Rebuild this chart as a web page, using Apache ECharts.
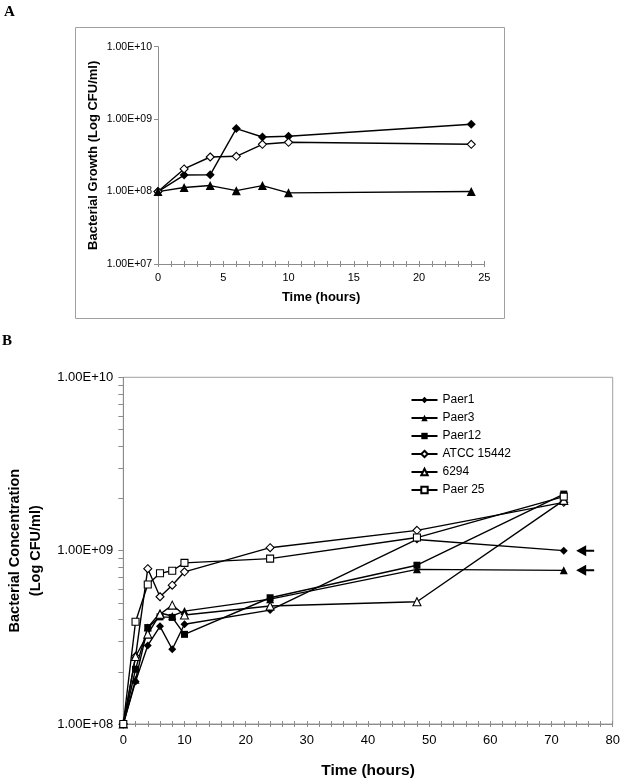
<!DOCTYPE html>
<html>
<head>
<meta charset="utf-8">
<script src="https://cdn.jsdelivr.net/npm/echarts@6/dist/echarts.min.js"></script>
<style>
html,body{margin:0;padding:0;background:#fff;}
#chart{width:623px;height:779px;}
</style>
</head>
<body>
<div id="chart"></div>
<script>
// ---------- Panel A data ----------
const timesA = [0, 2, 4, 6, 8, 10, 24];
const panelA_filledDiamond = [1.0e8, 1.69e8, 1.70e8, 7.4e8, 5.66e8, 5.8e8, 8.5e8];
const panelA_openDiamond   = [1.0e8, 2.05e8, 3.0e8, 3.07e8, 4.49e8, 4.79e8, 4.49e8];
const panelA_filledTri     = [1.0e8, 1.14e8, 1.21e8, 1.03e8, 1.21e8, 0.96e8, 1.0e8];
const yTicksA = [1e7, 1e8, 1e9, 1e10];

// ---------- Panel B data ----------
const timesB = [0, 2, 4, 6, 8, 10, 24, 48, 72];
const paer1  = [1.0e8, 1.76e8, 2.84e8, 3.66e8, 2.70e8, 3.76e8, 4.54e8, 1.16e9, 1.0e9];
const paer3  = [1.0e8, 1.80e8, 3.60e8, 4.37e8, 4.20e8, 4.48e8, 5.25e8, 7.8e8, 7.7e8];
const paer12 = [1.0e8, 2.07e8, 3.60e8, 4.15e8, 4.12e8, 3.29e8, 5.35e8, 8.24e8, 2.12e9];
const atcc   = [1.0e8, 2.45e8, 7.87e8, 5.42e8, 6.32e8, 7.55e8, 1.04e9, 1.31e9, 1.90e9];
const s6294  = [1.0e8, 2.45e8, 3.30e8, 4.30e8, 4.85e8, 4.25e8, 4.79e8, 5.07e8, 1.95e9];
const paer25 = [1.0e8, 3.89e8, 6.38e8, 7.40e8, 7.66e8, 8.50e8, 9.00e8, 1.19e9, 2.05e9];
const namesB = ['Paer1', 'Paer3', 'Paer12', 'ATCC 15442', '6294', 'Paer 25'];
const yTicksB = [1e8, 1e9, 1e10];
const arrowTime = 75.5; // annotation arrows beside Paer1 and Paer3 end points

const FONT = 'Liberation Sans, Arial, sans-serif';
// Excel-style scientific label: 1.00E+09
const fmt = v => {
  const e = Math.round(Math.log10(v));
  const m = v / Math.pow(10, e);
  return m.toFixed(2) + 'E+' + String(e).padStart(2, '0');
};
const pairs = (xs, ys) => xs.map((x, i) => [x, ys[i]]);
const range = (a, b, s) => { const r = []; for (let v = a; v <= b + 1e-9; v += s) r.push(v); return r; };
const logMinor = (lo, hi) => { const r = []; for (let e = lo; e < hi; e++) for (let m = 1; m < 10; m++) r.push(m * Math.pow(10, e)); r.push(Math.pow(10, hi)); return r; };

const GRAY = '#8c8c8c';
const arrowPath = 'path://M0,5.5 L10,0 L10,4.5 L18,4.5 L18,6.5 L10,6.5 L10,11 Z';

function mk(name, xs, ys, sym, open, size, gi, extra) {
  const s = {
    name: name, type: 'line', xAxisIndex: gi === 0 ? 0 : 2, yAxisIndex: gi,
    data: pairs(xs, ys), symbol: sym, symbolSize: size, showSymbol: true,
    lineStyle: { color: '#000', width: 1.4 },
    itemStyle: open ? { color: '#fff', borderColor: '#000', borderWidth: 1.1 } : { color: '#000', borderColor: '#000', borderWidth: 0 },
    emphasis: { disabled: true }, animation: false, z: 3
  };
  return Object.assign(s, extra || {});
}
function arrowMark(ys) {
  return { markPoint: { silent: true, symbol: arrowPath, symbolSize: [18, 11], itemStyle: { color: '#000' }, label: { show: false },
    data: [{ coord: [arrowTime, ys[ys.length - 1]] }] } };
}

const chart = echarts.init(document.getElementById('chart'), null, { renderer: 'canvas' });
const option = {
  backgroundColor: '#fff',
  animation: false,
  textStyle: { fontFamily: FONT },
  graphic: [
    { type: 'rect', shape: { x: 75.5, y: 27.5, width: 429, height: 291 }, style: { fill: 'none', stroke: '#a0a0a0', lineWidth: 1 }, silent: true },
    { type: 'text', left: 4, top: 5, style: { text: 'A', font: 'bold 15px Liberation Serif, Times New Roman, serif', fill: '#000' } },
    { type: 'text', left: 2, top: 334, style: { text: 'B', font: 'bold 15px Liberation Serif, Times New Roman, serif', fill: '#000' } }
  ],
  grid: [
    { left: 158, top: 46.7, width: 326.3, height: 217.3, show: false, containLabel: false, outerBoundsMode: 'none' },
    { left: 123.3, top: 377.3, width: 489.4, height: 346.7, show: true, borderColor: '#a0a0a0', borderWidth: 1, backgroundColor: 'transparent', containLabel: false, outerBoundsMode: 'none' }
  ],
  legend: {
    show: true, orient: 'vertical', left: 405.5, top: 388, itemWidth: 26, itemHeight: 8, itemGap: 4,
    data: namesB, textStyle: { fontFamily: FONT, fontSize: 12, color: '#000', lineHeight: 14 }, selectedMode: false
  },
  xAxis: [
    { gridIndex: 0, type: 'value', min: 0, max: 25, interval: 5,
      name: 'Time (hours)', nameLocation: 'middle', nameGap: 27,
      nameTextStyle: { fontFamily: FONT, fontWeight: 'bold', fontSize: 13, color: '#000' },
      axisLine: { lineStyle: { color: GRAY } }, axisTick: { show: true, length: 3, customValues: range(0, 25, 1), lineStyle: { color: GRAY } },
      axisLabel: { fontFamily: FONT, fontSize: 11, color: '#000', margin: 8 }, splitLine: { show: false } },
    { gridIndex: 0, type: 'value', min: 0, max: 25, interval: 5, position: 'bottom',
      axisLine: { show: false }, axisTick: { show: true, inside: true, length: 3, customValues: range(0, 25, 1), lineStyle: { color: GRAY } },
      axisLabel: { show: false }, splitLine: { show: false } },
    { gridIndex: 1, type: 'value', min: 0, max: 80, interval: 10,
      name: 'Time (hours)', nameLocation: 'middle', nameGap: 39,
      nameTextStyle: { fontFamily: FONT, fontWeight: 'bold', fontSize: 15.5, color: '#000' },
      axisLine: { lineStyle: { color: GRAY } }, axisTick: { show: true, length: 3, customValues: range(0, 80, 2), lineStyle: { color: GRAY } },
      axisLabel: { fontFamily: FONT, fontSize: 13, color: '#000', margin: 10 }, splitLine: { show: false } },
    { gridIndex: 1, type: 'value', min: 0, max: 80, interval: 10, position: 'bottom',
      axisLine: { show: false }, axisTick: { show: true, inside: true, length: 3, customValues: range(0, 80, 2), lineStyle: { color: GRAY } },
      axisLabel: { show: false }, splitLine: { show: false } }
  ],
  yAxis: [
    { gridIndex: 0, type: 'log', logBase: 10, min: 1e7, max: 1e10,
      name: 'Bacterial Growth (Log CFU/ml)', nameLocation: 'middle', nameGap: 58, nameMoveOverlap: false,
      nameTextStyle: { fontFamily: FONT, fontWeight: 'bold', fontSize: 13, color: '#000' },
      axisLine: { show: true, lineStyle: { color: GRAY } }, axisTick: { show: true, length: 4, customValues: yTicksA, lineStyle: { color: GRAY } },
      axisLabel: { fontFamily: FONT, fontSize: 10.5, color: '#000', margin: 6, formatter: fmt, customValues: yTicksA },
      splitLine: { show: false }, minorTick: { show: false } },
    { gridIndex: 1, type: 'log', logBase: 10, min: 1e8, max: 1e10,
      name: 'Bacterial Concentration\n(Log CFU/ml)', nameLocation: 'middle', nameGap: 77,
      nameTextStyle: { fontFamily: FONT, fontWeight: 'bold', fontSize: 14.5, lineHeight: 21, color: '#000' },
      axisLine: { show: true, lineStyle: { color: GRAY } }, axisTick: { show: true, length: 5, customValues: logMinor(8, 10), lineStyle: { color: GRAY } },
      axisLabel: { fontFamily: FONT, fontSize: 13, color: '#000', margin: 10, formatter: fmt, customValues: yTicksB },
      splitLine: { show: false }, minorTick: { show: false } }
  ],
  series: [
    mk('A1', timesA, panelA_filledDiamond, 'diamond', false, 9, 0),
    mk('A2', timesA, panelA_openDiamond, 'diamond', true, 8, 0),
    mk('A3', timesA, panelA_filledTri, 'triangle', false, 9, 0),
    mk('Paer1', timesB, paer1, 'diamond', false, 8, 1, arrowMark(paer1)),
    mk('Paer3', timesB, paer3, 'triangle', false, 8, 1, arrowMark(paer3)),
    mk('Paer12', timesB, paer12, 'rect', false, 7, 1),
    mk('ATCC 15442', timesB, atcc, 'diamond', true, 8, 1),
    mk('6294', timesB, s6294, 'triangle', true, 8, 1),
    mk('Paer 25', timesB, paer25, 'rect', true, 7, 1)
  ]
};
chart.setOption(option);
</script>
</body>
</html>
